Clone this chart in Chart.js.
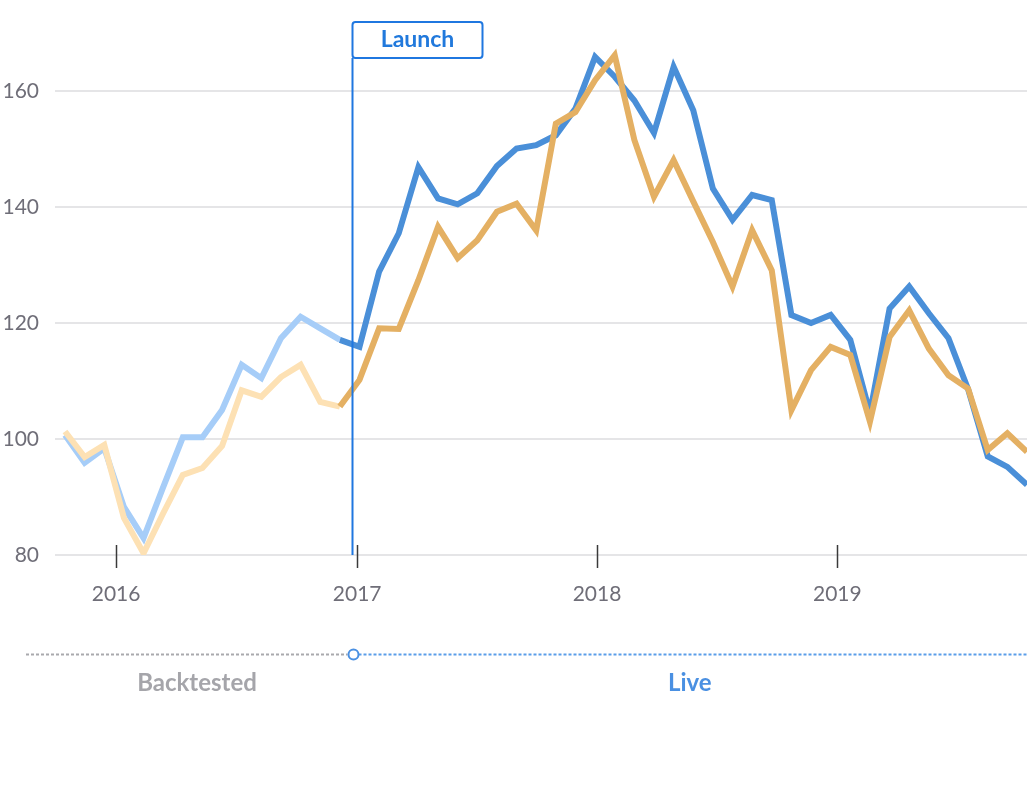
<!DOCTYPE html>
<html>
<head>
<meta charset="utf-8">
<script src="https://cdn.jsdelivr.net/npm/chart.js@4.4.1/dist/chart.umd.min.js"></script>
<style>
  html, body { margin: 0; padding: 0; background: #fff; }
  canvas { display: block; }
</style>
</head>
<body>
<canvas id="perfChart" width="1027" height="794"></canvas>
<script>
// monthly index values, first point is late 2015
const strategyValues = [100.7, 95.9, 98.4, 88.3, 82.9, 91.7, 100.3, 100.3, 105.0, 112.8,
  110.5, 117.4, 121.1, 119.1, 117.1, 115.9, 128.9, 135.5, 146.9, 141.5,
  140.5, 142.4, 147.1, 150.1, 150.7, 152.4, 157.0, 165.9, 162.5, 158.4,
  152.8, 164.2, 156.7, 143.2, 137.8, 142.1, 141.2, 121.4, 120.0, 121.4,
  117.1, 104.5, 122.5, 126.3, 121.7, 117.4, 108.6, 97.0, 95.2, 92.1];
const benchmarkValues = [101.3, 96.9, 99.0, 86.4, 80.3, 87.2, 93.8, 95.0, 98.8, 108.4,
  107.3, 110.7, 112.8, 106.4, 105.6, 110.2, 119.1, 119.0, 127.4, 136.6,
  131.2, 134.3, 139.2, 140.6, 136.0, 154.4, 156.4, 161.9, 166.2, 151.6,
  141.8, 148.1, 141.0, 134.0, 126.3, 136.0, 129.1, 105.0, 111.9, 115.9,
  114.5, 103.0, 117.6, 122.2, 115.6, 111.0, 108.7, 98.1, 101.0, 97.8];

const yTickValues = [80, 100, 120, 140, 160];
const yearLabels = ['2016', '2017', '2018', '2019'];
const yearTickPos = [2.6, 14.88, 27.1, 39.34];   // in point-index units
const launchPos = 14.62;
const liveStartIdx = 14;   // first segment drawn in live colours

const BLUE = '#4a8fd8', BLUE_LIGHT = '#a6cdf8';
const ORANGE = '#e4b063', ORANGE_LIGHT = '#fde1b4';
const TICK_GREY = '#6f6e78';
const FONT = 'Lato, "Open Sans", sans-serif';

const toPoints = arr => arr.map((v, i) => ({ x: i, y: v }));

const annotations = {
  id: 'annotations',
  afterDatasetsDraw(chart) {
    const { ctx, scales: { x, y } } = chart;
    const lx = Math.round(x.getPixelForValue(launchPos)) + 0.5;
    const bottom = y.getPixelForValue(yTickValues[0]);
    ctx.save();

    // year tick marks, crossing the axis line
    ctx.strokeStyle = '#3a3a3a';
    ctx.lineWidth = 1.5;
    yearTickPos.forEach(p => {
      const px = Math.round(x.getPixelForValue(p)) + 0.5;
      ctx.beginPath();
      ctx.moveTo(px, bottom - 10);
      ctx.lineTo(px, bottom + 13);
      ctx.stroke();
    });

    // launch line and label box
    const boxTop = 22, boxW = 130, boxH = 36;
    ctx.strokeStyle = '#1f77e0';
    ctx.lineWidth = 2;
    ctx.beginPath();
    ctx.moveTo(lx, bottom);
    ctx.lineTo(lx, boxTop + boxH);
    ctx.stroke();
    ctx.beginPath();
    ctx.roundRect(lx, boxTop, boxW, boxH, 3);
    ctx.fillStyle = '#fff';
    ctx.fill();
    ctx.stroke();
    ctx.fillStyle = '#2179dc';
    ctx.font = 'bold 23px ' + FONT;
    ctx.textAlign = 'center';
    ctx.textBaseline = 'middle';
    ctx.fillText('Launch', lx + boxW / 2, boxTop + boxH / 2);

    // backtested / live timeline
    const ty = 654.5;
    ctx.lineWidth = 2;
    ctx.setLineDash([3, 2]);
    ctx.strokeStyle = '#a9a9ad';
    ctx.beginPath();
    ctx.moveTo(26, ty);
    ctx.lineTo(lx - 5, ty);
    ctx.stroke();
    ctx.strokeStyle = '#5b9ee9';
    ctx.beginPath();
    ctx.moveTo(lx + 6, ty);
    ctx.lineTo(chart.width, ty);
    ctx.stroke();
    ctx.setLineDash([]);
    ctx.beginPath();
    ctx.arc(lx + 1, ty, 5, 0, Math.PI * 2);
    ctx.fillStyle = '#fff';
    ctx.fill();
    ctx.strokeStyle = '#4a90e2';
    ctx.stroke();

    ctx.font = 'bold 24px ' + FONT;
    ctx.fillStyle = '#a5a5aa';
    ctx.fillText('Backtested', 197, 683);
    ctx.fillStyle = '#4a90e2';
    ctx.fillText('Live', (lx + chart.width) / 2, 683);

    ctx.restore();
  }
};

new Chart(document.getElementById('perfChart'), {
  type: 'line',
  data: {
    datasets: [{
      label: 'Benchmark',
      data: toPoints(benchmarkValues),
      order: 0,
      borderWidth: 6,
      segment: {
        borderColor: c => c.p0DataIndex < liveStartIdx ? ORANGE_LIGHT : ORANGE
      },
      borderColor: ORANGE
    }, {
      label: 'Strategy',
      data: toPoints(strategyValues),
      order: 1,
      borderWidth: 6,
      segment: {
        borderColor: c => c.p0DataIndex < liveStartIdx ? BLUE_LIGHT : BLUE
      },
      borderColor: BLUE
    }]
  },
  options: {
    responsive: false,
    animation: false,
    layout: { padding: { top: 13, right: 0, left: 0, bottom: 0 } },
    elements: {
      point: { radius: 0 },
      line: { tension: 0, borderJoinStyle: 'miter', borderCapStyle: 'butt' }
    },
    plugins: { legend: { display: false }, tooltip: { enabled: false } },
    scales: {
      x: {
        type: 'linear',
        min: -0.51,
        max: 49,
        grid: { display: false },
        border: { display: false },
        afterBuildTicks: s => { s.ticks = yearTickPos.map(v => ({ value: v })); },
        afterFit: s => { s.height = 239; },
        ticks: {
          autoSkip: false,
          maxRotation: 0,
          padding: 19,
          color: TICK_GREY,
          font: { family: FONT, size: 21 },
          callback: v => yearLabels[yearTickPos.indexOf(v)]
        }
      },
      y: {
        min: 80,
        max: 170.8,
        afterBuildTicks: s => { s.ticks = yTickValues.map(v => ({ value: v })); },
        afterFit: s => { s.width = 55; },
        grid: { color: '#e5e5e7', lineWidth: 2, drawTicks: false },
        border: { display: false },
        ticks: {
          padding: 16,
          color: TICK_GREY,
          font: { family: FONT, size: 21 }
        }
      }
    }
  },
  plugins: [annotations]
});
</script>
</body>
</html>
